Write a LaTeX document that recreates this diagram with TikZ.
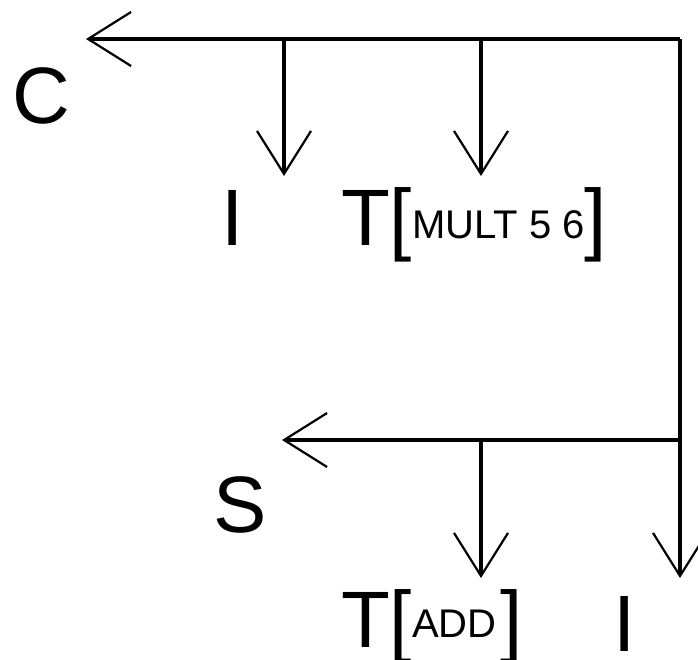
\documentclass[tikz,border=0pt]{standalone}
\usepackage{fontspec}
\setmainfont{Liberation Sans}
\usetikzlibrary{arrows.meta}
\newcommand{\bigtxt}{\fontsize{80}{80}\selectfont}
\newcommand{\smalltxt}{\fontsize{40}{40}\selectfont}
\begin{document}
\begin{tikzpicture}[x=1pt,y=-1pt,
  link/.style={line width=3.5pt,
    -{Straight Barb[length=43pt,width=54pt,line width=2.2pt]}},
  lbl/.style={inner sep=0pt,outer sep=0pt,font=\bigtxt}]
\useasboundingbox (0,0) rectangle (698,659);

% branch points and arrow ends
\coordinate (corner) at (680,39);
\coordinate (j1) at (284,39);
\coordinate (j2) at (481,39);
\coordinate (bend) at (680,440);
\coordinate (j3) at (481,440);
\coordinate (ctip) at (86,39);
\coordinate (stip) at (282,440);
\coordinate (i1tip) at (284,176);
\coordinate (t1tip) at (481,176);
\coordinate (t2tip) at (481,578);
\coordinate (i2tip) at (680,578);

% labels
\node[lbl,anchor=base] (c) at (41,123) {C};
\node[lbl,anchor=base] (i1) at (233,245) {I};
\node[lbl,anchor=base west] (t1) at (341,245)
  {T[\raisebox{7pt}{\smalltxt MULT 5 6}]};
\node[lbl,anchor=base] (s) at (240,532) {S};
\node[lbl,anchor=base west] (t2) at (341,647)
  {T[\raisebox{10pt}{\smalltxt ADD}\kern4pt]};
\node[lbl,anchor=base] (i2) at (625,651) {I};

% connectors
\draw[line width=3.5pt] (corner) -- (bend);
\draw[link] (corner) -- (ctip);
\draw[link] (j1) -- (i1tip);
\draw[link] (j2) -- (t1tip);
\draw[link] (bend) -- (i2tip);
\draw[link] (bend) -- (stip);
\draw[link] (j3) -- (t2tip);
\end{tikzpicture}
\end{document}
